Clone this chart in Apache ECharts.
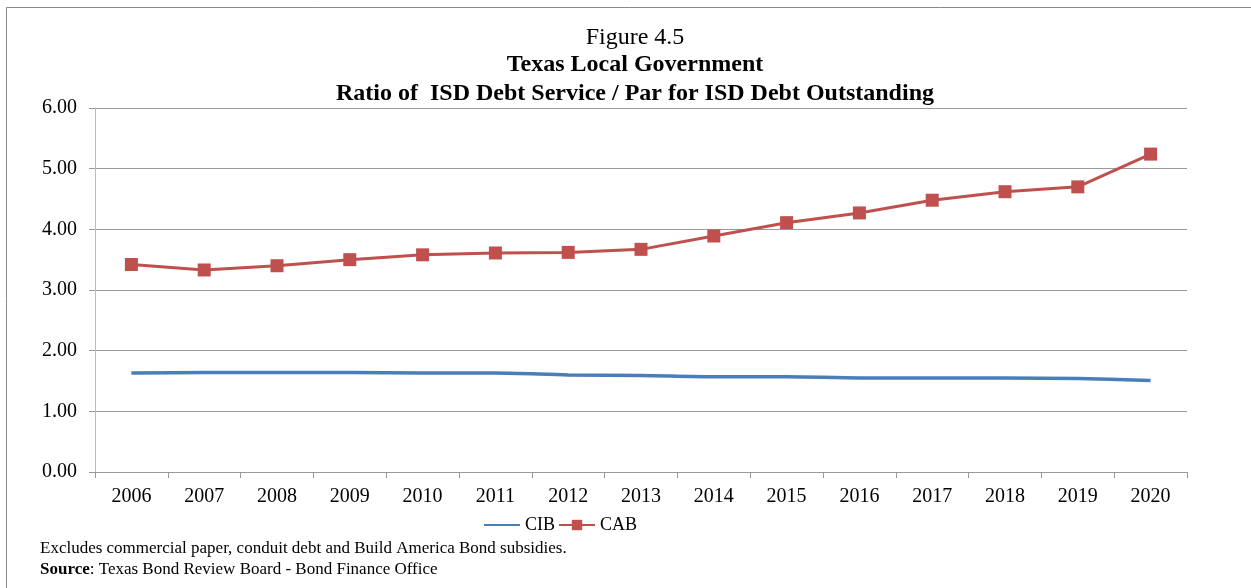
<!DOCTYPE html>
<html>
<head>
<meta charset="utf-8">
<script src="https://cdn.jsdelivr.net/npm/echarts@6/dist/echarts.min.js"></script>
<style>
  html, body { margin: 0; padding: 0; background: #fff; }
  #chart { width: 1251px; height: 588px; }
</style>
</head>
<body>
<div id="chart"></div>
<script>
var years = ['2006', '2007', '2008', '2009', '2010', '2011', '2012', '2013',
  '2014', '2015', '2016', '2017', '2018', '2019', '2020'];
var cibValues = [1.63, 1.64, 1.64, 1.64, 1.63, 1.63, 1.60, 1.59, 1.57, 1.57, 1.55, 1.55, 1.55, 1.54, 1.51];
var cabValues = [3.42, 3.33, 3.40, 3.50, 3.58, 3.61, 3.62, 3.67, 3.89, 4.11, 4.27, 4.48, 4.62, 4.70, 5.24];

var serif = '"Liberation Serif", "DejaVu Serif", serif';

var chart = echarts.init(document.getElementById('chart'));

var option = {
  animation: false,
  backgroundColor: '#fff',
  textStyle: { fontFamily: serif },
  title: [
    {
      text: 'Figure 4.5',
      left: 630, top: 21, textAlign: 'center',
      textStyle: { fontFamily: serif, fontSize: 24, fontWeight: 'normal', color: '#000' }
    },
    {
      text: 'Texas Local Government',
      left: 630, top: 48, textAlign: 'center',
      textStyle: { fontFamily: serif, fontSize: 24, fontWeight: 'bold', color: '#000' }
    },
    {
      text: 'Ratio of  ISD Debt Service / Par for ISD Debt Outstanding',
      left: 630, top: 77, textAlign: 'center',
      textStyle: { fontFamily: serif, fontSize: 24, fontWeight: 'bold', color: '#000' }
    }
  ],
  legend: {
    top: 511,
    left: 478,
    itemWidth: 36,
    itemHeight: 13,
    itemGap: 3,
    textStyle: { fontFamily: serif, fontSize: 18, color: '#000' },
    data: [
      { name: 'CIB', itemStyle: { opacity: 0 } },
      { name: 'CAB' }
    ]
  },
  grid: { left: 95, right: 64, top: 108, bottom: 116, containLabel: false },
  xAxis: {
    type: 'category',
    data: years,
    boundaryGap: true,
    axisLine: { lineStyle: { color: '#999', width: 1 } },
    axisTick: { show: true, inside: false, length: 6, lineStyle: { color: '#999' } },
    axisLabel: { fontFamily: serif, fontSize: 20, color: '#000', margin: 15 }
  },
  yAxis: {
    type: 'value',
    min: 0, max: 6, interval: 1,
    axisLine: { show: true, lineStyle: { color: '#bbb', width: 1 } },
    axisTick: { show: true, length: 6, lineStyle: { color: '#999' } },
    axisLabel: {
      fontFamily: serif, fontSize: 20, color: '#000', margin: 18,
      formatter: function (v) { return v.toFixed(2); }
    },
    splitLine: { lineStyle: { color: '#999', width: 1 } }
  },
  series: [
    {
      name: 'CIB',
      type: 'line',
      data: cibValues,
      smooth: 0.3,
      symbol: 'none',
      lineStyle: { color: '#4a7ebb', width: 3.5 },
      itemStyle: { color: '#4a7ebb' }
    },
    {
      name: 'CAB',
      type: 'line',
      data: cabValues,
      symbol: 'rect',
      symbolSize: 13,
      lineStyle: { color: '#c0504d', width: 3 },
      itemStyle: { color: '#c0504d' }
    }
  ],
  graphic: [
    {
      type: 'rect',
      shape: { x: 6.5, y: 7.5, width: 1300, height: 620 },
      style: { fill: 'none', stroke: '#888', lineWidth: 1 },
      silent: true
    },
    {
      type: 'text',
      left: 40, top: 540,
      style: {
        text: 'Excludes commercial paper, conduit debt and Build America Bond subsidies.',
        font: '17px ' + serif, fill: '#000'
      }
    },
    {
      type: 'text',
      left: 40, top: 561,
      style: {
        text: '{b|Source}: Texas Bond Review Board - Bond Finance Office',
        font: '17px ' + serif, fill: '#000',
        rich: { b: { fontWeight: 'bold', fontSize: 17, fontFamily: serif } }
      }
    }
  ]
};

chart.setOption(option);
</script>
</body>
</html>
